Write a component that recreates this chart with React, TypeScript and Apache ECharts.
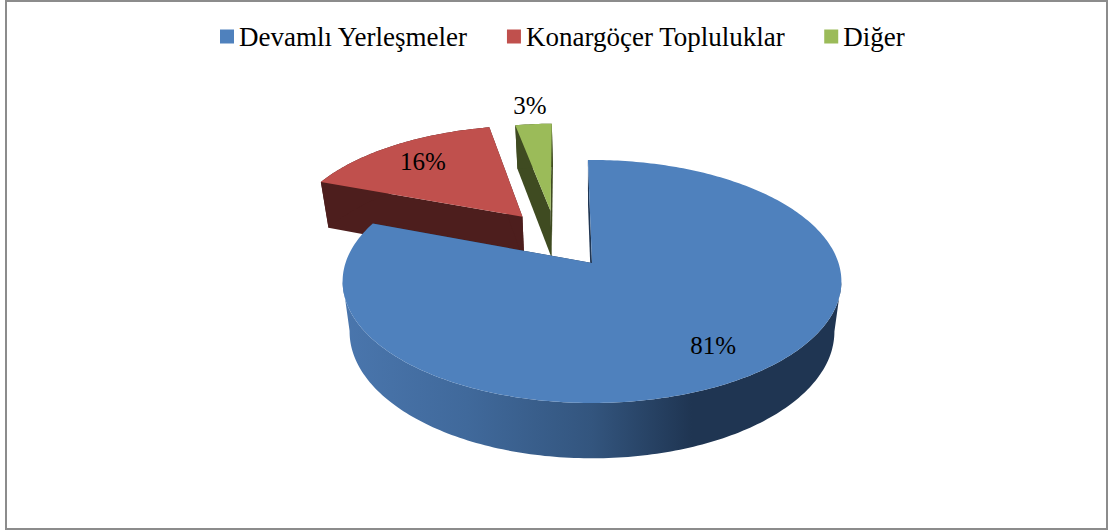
import React, { useEffect, useRef } from "react";
import * as echarts from "echarts";

const categories = ["Devamlı Yerleşmeler", "Konargöçer Topluluklar", "Diğer"];
const values = [81, 16, 3];
const labels = ["81%", "16%", "3%"];
const colors = ["#4f81bd", "#c0504d", "#9bbb59"];
const sideColors = ["#1f3552", "#4d1e1d", "#3f4b21"];

// Plane-unit explosion of each slice, its drawn radius and the radial position of its label
const explode = [[0, 0], [-0.3, -0.415], [-0.18, -0.469]];
const sliceRadius = [1, 0.99, 0.96];
const labelRadius = [0.77, 0.75, 1.2];

const CX = 592, CY = 263, RX = 246.5, RY = 118.7, K = 0.152;
const START = -1.1;
const SERIF = "'Liberation Serif', 'Times New Roman', serif";

function project(u: number, v: number): [number, number] {
  const w = 1 - K * v;
  return [CX + (RX * u) / w, CY + (RY * v) / w];
}
// Lower rim of the disc: same outline, slightly narrower and pushed down
function drop(p: [number, number]): [number, number] {
  return [CX + (p[0] - CX) * 0.972, p[1] * 1.043 + 38];
}

function sliceAngles(index: number): [number, number] {
  const total = values.reduce((a, b) => a + b, 0);
  let a = START;
  for (let i = 0; i < index; i++) a += (values[i] / total) * 360;
  return [a, a + (values[index] / total) * 360];
}

function makeRenderItem(index: number) {
  return () => {
    const [a0, a1] = sliceAngles(index);
    const [ox, oy] = explode[index];
    const radius = sliceRadius[index];
    const point = (deg: number, r: number) => {
      const t = (deg * Math.PI) / 180;
      return project(ox + r * Math.sin(t), oy - r * Math.cos(t));
    };
    const steps = Math.max(8, Math.ceil(a1 - a0));
    const arc: [number, number][] = [];
    for (let i = 0; i <= steps; i++) arc.push(point(a0 + ((a1 - a0) * i) / steps, radius));
    const apex = project(ox, oy);
    const lowerArc = arc.map(drop);
    const side = sideColors[index];
    const wallFill =
      index === 0
        ? new echarts.graphic.LinearGradient(0, 0, 1, 0, [
            { offset: 0, color: "#4a76ad" },
            { offset: 0.25, color: "#40699b" },
            { offset: 0.5, color: "#33557e" },
            { offset: 0.7, color: "#1f3552" },
            { offset: 1, color: "#1f3552" },
          ])
        : side;
    // Outer wall runs between the two extreme points of the rim, so its silhouette is straight
    let iMin = 0;
    let iMax = 0;
    arc.forEach((p, i) => {
      if (p[0] < arc[iMin][0]) iMin = i;
      if (p[0] > arc[iMax][0]) iMax = i;
    });
    const from = Math.min(iMin, iMax);
    const to = Math.max(iMin, iMax);
    const wall = [...arc.slice(from, to + 1), ...lowerArc.slice(from, to + 1).reverse()];
    const poly = (points: [number, number][], fill: any) => ({
      type: "polygon",
      shape: { points },
      style: { fill, stroke: "none" },
    });
    const mid = (((a0 + a1) / 2) * Math.PI) / 180;
    const r = labelRadius[index];
    const lp = project(ox + r * Math.sin(mid), oy - r * Math.cos(mid));
    return {
      type: "group",
      children: [
        poly([apex, arc[0], lowerArc[0], drop(apex)], side),
        poly([apex, arc[steps], lowerArc[steps], drop(apex)], side),
        poly(wall, wallFill),
        poly([apex, ...arc], colors[index]),
        {
          type: "text",
          x: lp[0],
          y: lp[1],
          style: {
            text: labels[index],
            fill: "#000",
            font: `25px ${SERIF}`,
            align: "center",
            verticalAlign: "middle",
          },
        },
      ],
    };
  };
}

export default function App() {
  const ref = useRef<HTMLDivElement>(null);
  useEffect(() => {
    const chart = echarts.init(ref.current!, undefined, { renderer: "svg" });
    chart.setOption({
      animation: false,
      backgroundColor: "#fff",
      legend: {
        data: categories,
        left: 220,
        top: 23,
        padding: 0,
        itemWidth: 14,
        itemHeight: 14,
        itemGap: 39,
        icon: "rect",
        textStyle: { fontFamily: SERIF, fontSize: 27, color: "#000" },
      },
      graphic: [
        {
          type: "rect",
          silent: true,
          shape: { x: 6, y: 1, width: 1101, height: 528 },
          style: { fill: "none", stroke: "#8c8c8c", lineWidth: 2 },
        },
      ],
      series: [1, 2, 0].map((i) => ({
        type: "custom",
        name: categories[i],
        coordinateSystem: "none",
        renderItem: makeRenderItem(i),
        data: [[values[i]]],
        itemStyle: { color: colors[i] },
        silent: true,
      })),
    });
    return () => chart.dispose();
  }, []);
  return <div ref={ref} style={{ position: "absolute", left: 0, top: 0, width: 1115, height: 531 }} />;
}
